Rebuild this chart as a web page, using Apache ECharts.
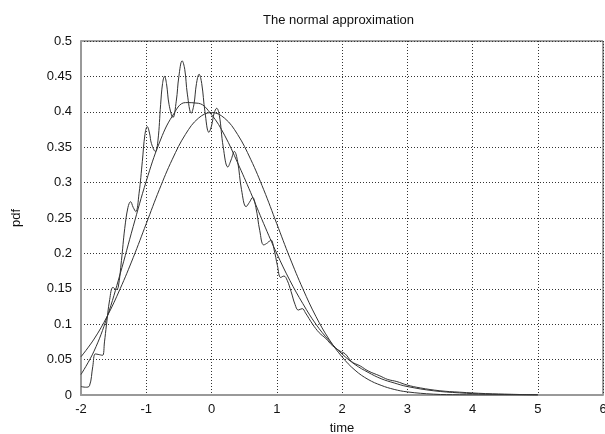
<!DOCTYPE html>
<html>
<head>
<meta charset="utf-8">
<script src="https://cdn.jsdelivr.net/npm/echarts@6/dist/echarts.min.js"></script>
<style>
  html, body { margin: 0; padding: 0; background: #fff; }
  #chart { width: 605px; height: 434px; }
</style>
</head>
<body>
<div id="chart"></div>
<script>
// normal pdf
var normalX = [-2, -1.8, -1.6, -1.4, -1.2, -1, -0.8, -0.6, -0.4, -0.2, 0, 0.2, 0.4, 0.6, 0.8, 1, 1.2, 1.4, 1.6, 1.8, 2, 2.2, 2.4, 2.6, 2.8, 3, 3.4, 3.8, 4.2, 5];
var normalY = [0.054, 0.079, 0.111, 0.150, 0.194, 0.242, 0.290, 0.333, 0.368, 0.391, 0.399, 0.391, 0.368, 0.333, 0.290, 0.242, 0.194, 0.150, 0.111, 0.079, 0.054, 0.035, 0.022, 0.0136, 0.0079, 0.0044, 0.0012, 0.0003, 0.0001, 0];

// skewed smooth curve
var skewX = [-2, -1.8, -1.6, -1.4, -1.2, -1, -0.8, -0.6, -0.4, -0.2, 0, 0.2, 0.4, 0.6, 0.8, 1, 1.2, 1.4, 1.6, 1.8, 2, 2.2, 2.4, 2.6, 2.8, 3, 3.4, 3.8, 4.2, 4.6, 5];
var skewY = [0.029, 0.062, 0.110, 0.171, 0.238, 0.302, 0.356, 0.394, 0.413, 0.412, 0.396, 0.367, 0.328, 0.286, 0.242, 0.200, 0.162, 0.129, 0.100, 0.077, 0.058, 0.043, 0.032, 0.023, 0.017, 0.012, 0.006, 0.003, 0.0013, 0.0006, 0.0003];

// oscillating curve
var waveX = [-2, -1.93, -1.87, -1.82, -1.78, -1.72, -1.67, -1.64, -1.61, -1.56, -1.51, -1.46, -1.43, -1.38, -1.33, -1.28, -1.24, -1.2, -1.16, -1.11, -1.06, -1.02, -0.985, -0.95, -0.92, -0.86, -0.82, -0.78, -0.75, -0.72, -0.69, -0.65, -0.59, -0.54, -0.5, -0.45, -0.41, -0.37, -0.31, -0.27, -0.23, -0.19, -0.15, -0.1, -0.04, 0, 0.04, 0.08, 0.12, 0.18, 0.25, 0.3, 0.35, 0.4, 0.46, 0.53, 0.58, 0.63, 0.68, 0.74, 0.8, 0.86, 0.91, 0.96, 1.01, 1.06, 1.11, 1.16, 1.22, 1.28, 1.33, 1.39, 1.44, 1.55, 1.65, 1.75, 1.85, 1.97, 2.05, 2.15, 2.28, 2.4, 2.58, 2.7, 2.84, 3, 3.2, 3.5, 3.8, 4.2, 4.6, 5];
var waveY = [0.012, 0.011, 0.013, 0.04, 0.058, 0.057, 0.056, 0.075, 0.099, 0.135, 0.152, 0.149, 0.152, 0.19, 0.235, 0.265, 0.273, 0.265, 0.259, 0.285, 0.33, 0.368, 0.379, 0.37, 0.355, 0.344, 0.36, 0.41, 0.44, 0.45, 0.44, 0.41, 0.392, 0.415, 0.45, 0.472, 0.46, 0.425, 0.398, 0.41, 0.44, 0.453, 0.44, 0.40, 0.371, 0.38, 0.398, 0.405, 0.395, 0.35, 0.322, 0.332, 0.344, 0.33, 0.29, 0.266, 0.272, 0.279, 0.265, 0.232, 0.212, 0.215, 0.219, 0.205, 0.183, 0.166, 0.168, 0.162, 0.146, 0.128, 0.12, 0.122, 0.116, 0.1, 0.088, 0.08, 0.07, 0.062, 0.058, 0.047, 0.041, 0.034, 0.027, 0.022, 0.019, 0.014, 0.01, 0.006, 0.004, 0.002, 0.001, 0];

function pairs(xs, ys) {
  var out = [];
  for (var i = 0; i < xs.length; i++) out.push([xs[i], ys[i]]);
  return out;
}

var chart = echarts.init(document.getElementById('chart'));
var font = 'Liberation Sans, Arial, sans-serif';
var lineStyle = { color: '#333', width: 1 };

var option = {
  animation: false,
  backgroundColor: '#fff',
  title: {
    text: 'The normal approximation',
    left: 258,
    top: 9,
    textStyle: { fontFamily: font, fontSize: 13, fontWeight: 'normal', color: '#111' }
  },
  grid: {
    left: 81, right: 2, top: 41, bottom: 39,
    outerBoundsMode: 'none',
    containLabel: false,
    show: true, borderColor: '#444', borderWidth: 1
  },
  xAxis: {
    type: 'value',
    min: -2, max: 6, interval: 1,
    name: 'time',
    nameLocation: 'middle',
    nameGap: 27,
    nameTextStyle: { fontFamily: font, fontSize: 13, color: '#111' },
    axisLine: { show: true, onZero: false, lineStyle: { color: '#999', width: 2 } },
    axisTick: { show: false },
    axisLabel: { fontFamily: font, fontSize: 13, color: '#111', margin: 8 },
    splitLine: { show: true, lineStyle: { color: '#333', type: [1, 2], width: 1 } }
  },
  yAxis: {
    type: 'value',
    min: 0, max: 0.5, interval: 0.05,
    name: 'pdf',
    nameLocation: 'middle',
    nameGap: 58,
    nameTextStyle: { fontFamily: font, fontSize: 13, color: '#111' },
    axisLine: { show: true, onZero: false, lineStyle: { color: '#999', width: 2 } },
    axisTick: { show: false },
    axisLabel: { fontFamily: font, fontSize: 13, color: '#111', margin: 9 },
    splitLine: { show: true, lineStyle: { color: '#333', type: [1, 2], width: 1 } }
  },
  series: [
    { type: 'line', data: pairs(normalX, normalY), smooth: 0.4, showSymbol: false, lineStyle: lineStyle },
    { type: 'line', data: pairs(skewX, skewY), smooth: 0.4, showSymbol: false, lineStyle: lineStyle },
    { type: 'line', data: pairs(waveX, waveY), smooth: 0.4, showSymbol: false, lineStyle: lineStyle }
  ]
};
chart.setOption(option);
</script>
</body>
</html>
